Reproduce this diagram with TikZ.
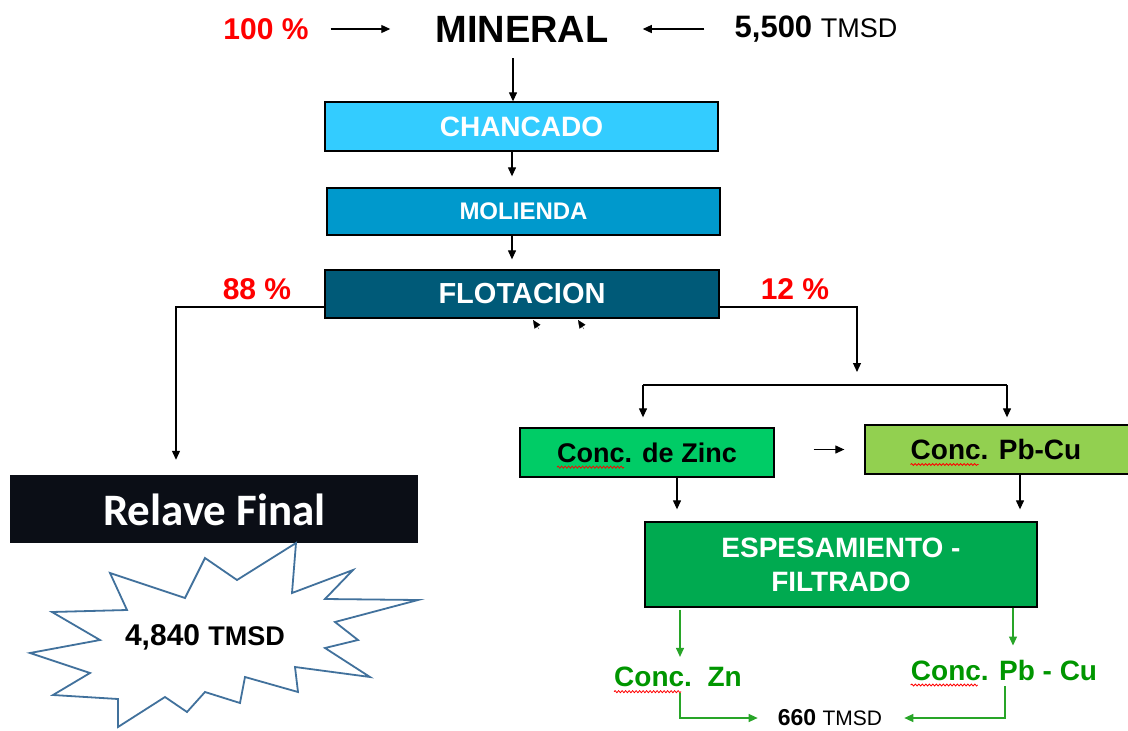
\documentclass[tikz,border=0pt]{standalone}
\usepackage{fontspec}
\setmainfont{Liberation Sans}
\newfontfamily\calfont{Carlito}
\usetikzlibrary{arrows.meta,calc,decorations.pathmorphing}
\definecolor{cchan}{RGB}{51,204,255}
\definecolor{cmol}{RGB}{0,153,204}
\definecolor{cflo}{RGB}{0,90,120}
\definecolor{crel}{RGB}{11,14,22}
\definecolor{czinc}{RGB}{0,204,102}
\definecolor{cpbcu}{RGB}{146,208,80}
\definecolor{cesp}{RGB}{0,170,80}
\definecolor{cgreen}{RGB}{0,150,0}
\definecolor{cgline}{RGB}{40,165,40}
\definecolor{cstar}{RGB}{65,113,156}
\newcommand\fsz[1]{\fontsize{#1}{#1}\selectfont}
\begin{document}
\begin{tikzpicture}[x=1pt,y=-1pt,
  arr/.style={draw=black, line width=1.2pt, -{Triangle[length=9pt,width=8pt]}},
  garr/.style={draw=cgline, line width=1.2pt, -{Triangle[length=9pt,width=8pt]}},
  box/.style={draw=black, line width=1.3pt, rectangle, inner sep=0pt},
  txt/.style={inner sep=0pt, font=\bfseries},
  wtxt/.style={inner sep=0pt, text=white, font=\bfseries},
  squig/.style={draw=red, line width=0.8pt, decorate, decoration={snake, amplitude=1pt, segment length=3.5pt}}]
\useasboundingbox (0,0) rectangle (1128,731);
\clip (0,0) rectangle (1128,731);
\fill[white] (0,0) rectangle (1128,731);

% top row
\node[txt, text=red, font=\bfseries\fsz{30}] (p100) at (266,29) {100 \%};
\node[txt, font=\bfseries\fsz{38}] (mineral) at (522,29) {MINERAL};
\node[inner sep=0pt] (tons) at (816,29) {\bfseries\fsz{31}5,500 \mdseries\fsz{27}TMSD};
\draw[arr, shorten <=22pt, shorten >=45pt] (p100.east) -- (mineral.west);
\draw[arr, shorten <=30pt, shorten >=34pt] (tons.west) -- (mineral.east);

% process boxes
\node[box, fill=cchan, minimum width=393pt, minimum height=49pt] (chan) at (521.5,126.5) {};
\node[wtxt, font=\bfseries\fsz{28}] (chant) at (chan) {CHANCADO};
\node[box, fill=cmol, minimum width=393pt, minimum height=47pt] (mol) at (523.5,211.5) {};
\node[wtxt, font=\bfseries\fsz{24}] (molt) at (mol) {MOLIENDA};
\node[box, fill=cflo, minimum width=394pt, minimum height=48pt] (flo) at (522,294) {};
\node[wtxt, font=\bfseries\fsz{29}] (flot) at (flo) {FLOTACION};

\draw[arr, shorten <=16pt] ([xshift=-9pt]mineral.south) -- ([xshift=-9pt]mineral.south |- chan.north);
\draw[arr, shorten >=11pt] ([xshift=-9.5pt]chan.south) -- ([xshift=-9.5pt]chan.south |- mol.north);
\draw[arr, shorten >=10pt] ([xshift=-11.5pt]mol.south) -- ([xshift=-11.5pt]mol.south |- flo.north);

% small arrowheads under flotacion
\draw[-{Triangle[length=8pt,width=7pt]}, line width=0.2pt] (539,329) -- (533,320);
\draw[-{Triangle[length=8pt,width=7pt]}, line width=0.2pt] (584,329) -- (578,320);

% percentages
\node[txt, text=red, font=\bfseries\fsz{30}] (p88) at (257,289) {88 \%};
\node[txt, text=red, font=\bfseries\fsz{30}] (p12) at (795,289) {12 \%};

% relave
\node[rectangle, fill=crel, minimum width=408pt, minimum height=68pt, inner sep=0pt] (rel) at (214,509) {};
\node[inner sep=0pt, text=white, font=\calfont\bfseries\fsz{45}] (relt) at (214.5,510) {Relave Final};
\draw[arr, shorten >=15pt] ([yshift=-13pt]flo.west) -| ([xshift=-38pt]rel.north);

% starburst
\draw[cstar, line width=1.8pt, line join=miter, fill=white]
 (296,543) -- (292,593) -- (353,570) -- (325,599) -- (418,600) -- (335,622) -- (358,640)
 -- (325,648) -- (370,677) -- (295,667) -- (298,692) -- (245,677) -- (240,703) -- (205,692)
 -- (187,712) -- (165,697) -- (118,727) -- (118,699) -- (53,695) -- (90,673) -- (30,653)
 -- (100,640) -- (52,612) -- (127,610) -- (110,573) -- (185,598) -- (205,558) -- (237,580) -- cycle;
\node[inner sep=0pt] (t4840) at (205,637) {\bfseries\fsz{30}4,840 \fsz{27}TMSD};

% concentrates
\coordinate (j) at (857,385);
\draw[arr, shorten >=13pt] ([yshift=-13pt]flo.east) -| (j);

\node[box, fill=czinc, minimum width=254pt, minimum height=49pt] (zinc) at (647,452.5) {};
\node[txt, font=\bfseries\fsz{27}] (zinct) at (647,452.5) {Conc. de Zinc};
\node[box, fill=cpbcu, minimum width=270pt, minimum height=49pt] (pbcu) at (1000,449.5) {};
\node[txt, font=\bfseries\fsz{28}] (pbcut) at (996,449.5) {Conc. Pb-Cu};
\draw[squig] ([yshift=-5pt]zinct.base west) -- ++(67,0);
\draw[squig] ([yshift=-5pt]pbcut.base west) -- ++(68,0);

\draw[line width=1.2pt] ([xshift=-4pt]zinc.north |- j) -- ([xshift=7pt]pbcu.north |- j);
\draw[arr, shorten >=10pt] ([xshift=-4pt]zinc.north |- j) -- ([xshift=-4pt]zinc.north);
\draw[arr, shorten >=7pt] ([xshift=7pt]pbcu.north |- j) -- ([xshift=7pt]pbcu.north);
\draw[arr, shorten <=39pt, shorten >=20pt] (zinc.east |- pbcu.west) -- (pbcu.west);

\node[box, fill=cesp, minimum width=392pt, minimum height=85pt] (esp) at (841,564.5) {};
\node[wtxt, align=center, font=\bfseries\fontsize{28}{34}\selectfont] (espt) at (841,565) {ESPESAMIENTO -\\FILTRADO};
\draw[arr, shorten >=12pt] ([xshift=30pt]zinc.south) -- ([xshift=30pt]zinc.south |- esp.north);
\draw[arr, shorten >=12pt] ([xshift=20pt]pbcu.south) -- ([xshift=20pt]pbcu.south |- esp.north);

% final products
\node[txt, text=cgreen, font=\bfseries\fsz{28}] (czn) at (678,677) {Conc.~~Zn};
\node[txt, text=cgreen, font=\bfseries\fsz{28}] (cpb) at (1004,670) {Conc. Pb - Cu};
\draw[squig] ([yshift=-5pt]czn.base west) -- ++(67,0);
\draw[squig] ([yshift=-5pt]cpb.base west) -- ++(67,0);
\node[inner sep=0pt] (t660) at (830,718) {\bfseries\fsz{23}660 \mdseries\fsz{21}TMSD};

\draw[garr, shorten <=2pt, shorten >=10pt] ([xshift=-161pt]esp.south) -- ([xshift=-161pt]esp.south |- czn.north);
\draw[garr, shorten >=14pt] ([xshift=172pt]esp.south) -- ([xshift=172pt]esp.south |- cpb.north);
\draw[garr, shorten <=6pt, shorten >=20pt] ([xshift=2pt]czn.south) |- (t660.west);
\draw[garr, shorten <=6pt, shorten >=22pt] ([xshift=1pt]cpb.south) |- (t660.east);
\end{tikzpicture}
\end{document}
